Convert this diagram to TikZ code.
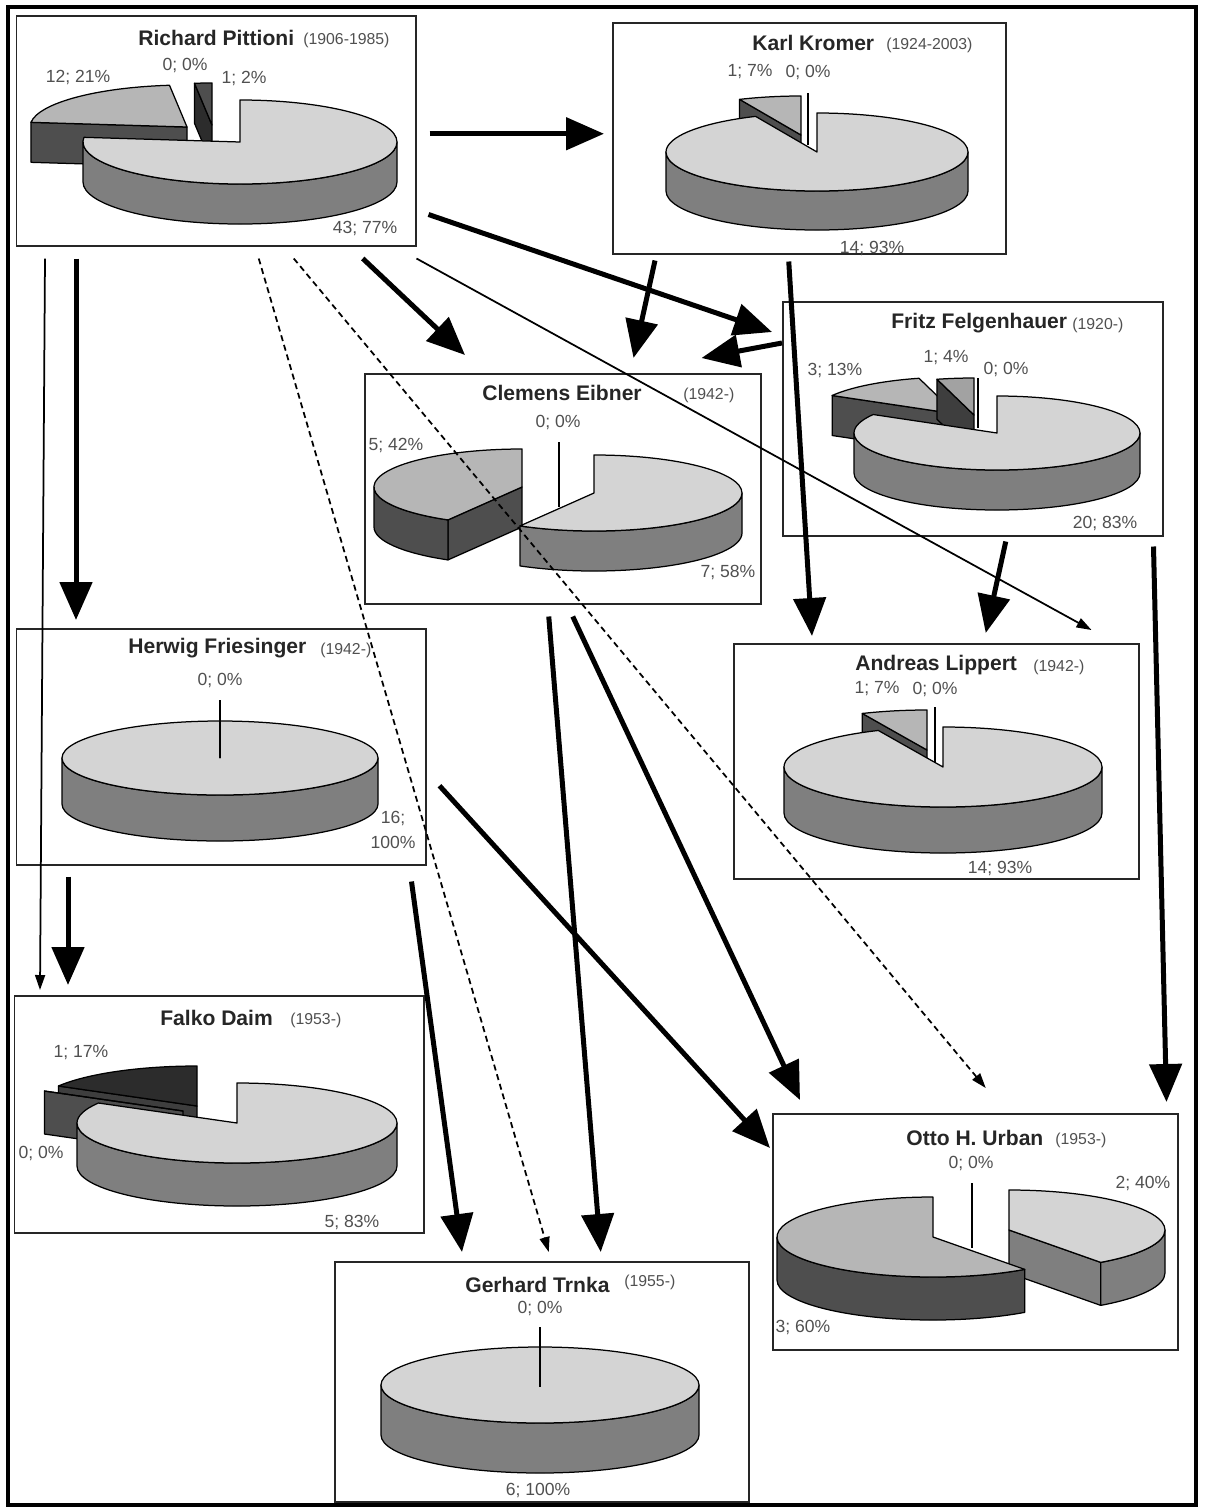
\documentclass[tikz,border=0pt]{standalone}
\usepackage{fontspec}
\setmainfont{Liberation Sans}
\usetikzlibrary{arrows.meta}

\definecolor{pietop}{HTML}{D4D4D4}
\definecolor{pieside}{HTML}{7F7F7F}
\definecolor{sectop}{HTML}{B6B6B6}
\definecolor{secside}{HTML}{4E4E4E}
\definecolor{smalltop}{HTML}{A2A2A2}
\definecolor{smallside}{HTML}{3E3E3E}
\definecolor{darktop}{HTML}{2C2C2C}
\definecolor{lblgray}{HTML}{505050}

% radii and depth of the pie in hand
\def\prx{150}\def\pry{40}\def\pdp{40}

% apex x, apex y, from angle, to angle, top colour, side colour
\newcommand{\pieslice}[6]{%
  \begin{scope}[shift={(#1,#2)}]
    \pgfmathtruncatemacro{\pvsa}{sin(#3-90)>0.01}%
    \pgfmathtruncatemacro{\pvsb}{sin(#4+90)>0.01}%
    \pgfmathsetmacro{\pslo}{max(#3,0)}%
    \pgfmathsetmacro{\pshi}{min(#4,180)}%
    \pgfmathtruncatemacro{\pvo}{\pshi>\pslo}%
    \ifnum\pvsa=1
      \filldraw[pieline, fill=#6] (0,0) -- ({\prx*cos(#3)},{\pry*sin(#3)}) -- ++(0,\pdp) -- (0,\pdp) -- cycle;
    \fi
    \ifnum\pvsb=1
      \filldraw[pieline, fill=#6] (0,0) -- ({\prx*cos(#4)},{\pry*sin(#4)}) -- ++(0,\pdp) -- (0,\pdp) -- cycle;
    \fi
    \ifnum\pvo=1
      \filldraw[pieline, fill=#6] ({\prx*cos(\pslo)},{\pry*sin(\pslo)})
        arc[start angle=\pslo, end angle=\pshi, x radius=\prx, y radius=\pry] -- ++(0,\pdp)
        arc[start angle=\pshi, end angle=\pslo, x radius=\prx, y radius=\pry] -- cycle;
    \fi
    \filldraw[pieline, fill=#5] (0,0) -- ({\prx*cos(#3)},{\pry*sin(#3)})
      arc[start angle=#3, end angle=#4, x radius=\prx, y radius=\pry] -- cycle;
  \end{scope}}

\tikzset{
  box/.style={draw=black!85, line width=0.03cm, anchor=north west, inner sep=0pt},
  pieline/.style={draw=black, line width=0.025cm, line join=round},
  zeroline/.style={draw=black, line width=0.025cm},
  ttl/.style={font=\fontsize{12}{13}\selectfont\bfseries, text=black!85, anchor=west, inner sep=0pt},
  yrs/.style={font=\fontsize{9}{10}\selectfont, text=lblgray, anchor=west, inner sep=0pt},
  lbl/.style={font=\fontsize{10}{14}\selectfont, text=lblgray, inner sep=0pt, align=center},
  thickarrow/.style={line width=0.1cm, -{Triangle[length=0.76cm,width=0.64cm]}},
  thinarrow/.style={line width=0.035cm, -{Triangle[length=0.3cm,width=0.2cm]}},
  dasharrow/.style={thinarrow, dash pattern=on 0.12cm off 0.08cm}
}

\begin{document}
\begin{tikzpicture}[x=0.02cm, y=-0.02cm]
\useasboundingbox (0,0) rectangle (1209,1512);
\draw[line width=0.08cm] (8,7) rectangle (1196,1505);

% Richard Pittioni
\def\prx{157}\def\pry{42}\def\pdp{40}
\pieslice{187}{127}{186.4}{263.6}{sectop}{secside}
\pieslice{212}{125}{263.6}{270}{secside}{darktop}
\pieslice{240}{142}{-90}{186.4}{pietop}{pieside}
\node[box, minimum width=399*0.02cm, minimum height=230*0.02cm] (pit) at (16,15) {};
\node[ttl] (pitname) at (138,38) {Richard Pittioni};
\node[yrs] (pityrs) at (303,40) {(1906-1985)};
\node[lbl] (pitb) at (78,77) {12; 21\%};
\node[lbl] (pitd) at (185,65) {0; 0\%};
\node[lbl] (pitc) at (244,78) {1; 2\%};
\node[lbl] (pita) at (365,228) {43; 77\%};

% Karl Kromer
\def\prx{151}\def\pry{39}\def\pdp{39}
\pieslice{801}{135}{246}{270}{sectop}{secside}
\draw[zeroline] (808,93) -- (808,145);
\pieslice{817}{152}{-90}{246}{pietop}{pieside}
\node[box, minimum width=393*0.02cm, minimum height=231*0.02cm] (kro) at (612,22) {};
\node[ttl] (kroname) at (752,43) {Karl Kromer};
\node[yrs] (kroyrs) at (886,45) {(1924-2003)};
\node[lbl] (krob) at (750,72) {1; 7\%};
\node[lbl] (kroc) at (808,72) {0; 0\%};
\node[lbl] (kroa) at (872,248) {14; 93\%};

% Fritz Felgenhauer
\def\prx{143}\def\pry{37}\def\pdp{40}
\pieslice{956}{414}{210}{255}{sectop}{secside}
\pieslice{974}{415}{255}{270}{smalltop}{smallside}
\draw[zeroline] (978,378) -- (978,428);
\pieslice{997}{433}{-90}{210}{pietop}{pieside}
\node[box, minimum width=380*0.02cm, minimum height=234*0.02cm] (fel) at (782,301) {};
\node[ttl] (felname) at (891,323) {Fritz Felgenhauer};
\node[yrs] (felyrs) at (1072,325) {(1920-)};
\node[lbl] (felb) at (835,370) {3; 13\%};
\node[lbl] (felc) at (946,358) {1; 4\%};
\node[lbl] (feld) at (1006,369) {0; 0\%};
\node[lbl] (fela) at (1105,523) {20; 83\%};

% Clemens Eibner
\def\prx{148}\def\pry{38}\def\pdp{40}
\pieslice{522}{487}{120}{270}{sectop}{secside}
\pieslice{594}{493}{-90}{120}{pietop}{pieside}
\draw[zeroline] (559,442) -- (559,507);
\node[box, minimum width=396*0.02cm, minimum height=230*0.02cm] (eib) at (364,373) {};
\node[ttl] (eibname) at (482,393) {Clemens Eibner};
\node[yrs] (eibyrs) at (683,395) {(1942-)};
\node[lbl] (eibb) at (396,445) {5; 42\%};
\node[lbl] (eibc) at (558,422) {0; 0\%};
\node[lbl] (eiba) at (728,572) {7; 58\%};

% Herwig Friesinger
\def\prx{158}\def\pry{37}\def\pdp{46}
\pieslice{220}{758}{-90}{270}{pietop}{pieside}
\draw[zeroline] (220,700) -- (220,758);
\node[box, minimum width=409*0.02cm, minimum height=236*0.02cm] (fri) at (16,628) {};
\node[ttl] (friname) at (128,648) {Herwig Friesinger};
\node[yrs] (friyrs) at (320,650) {(1942-)};
\node[lbl] (frib) at (220,680) {0; 0\%};
\node[lbl] (fria) at (393,830) {16;\\100\%};

% Andreas Lippert
\def\prx{159}\def\pry{40}\def\pdp{46}
\pieslice{927}{750}{246}{270}{sectop}{secside}
\draw[zeroline] (935,707) -- (935,767);
\pieslice{943}{767}{-90}{246}{pietop}{pieside}
\node[box, minimum width=405*0.02cm, minimum height=235*0.02cm] (lip) at (733,643) {};
\node[ttl] (lipname) at (855,665) {Andreas Lippert};
\node[yrs] (lipyrs) at (1033,667) {(1942-)};
\node[lbl] (lipb) at (877,689) {1; 7\%};
\node[lbl] (lipc) at (935,689) {0; 0\%};
\node[lbl] (lipa) at (1000,868) {14; 93\%};

% Falko Daim
\def\prx{160}\def\pry{40}\def\pdp{43}
\pieslice{197}{1106}{210}{270}{darktop}{smallside}
\pieslice{183}{1111}{210}{210}{secside}{secside}
\pieslice{237}{1123}{-90}{210}{pietop}{pieside}
\node[box, minimum width=409*0.02cm, minimum height=237*0.02cm] (dai) at (14,995) {};
\node[ttl] (dainame) at (160,1018) {Falko Daim};
\node[yrs] (daiyrs) at (290,1020) {(1953-)};
\node[lbl] (daib) at (81,1053) {1; 17\%};
\node[lbl] (daic) at (41,1153) {0; 0\%};
\node[lbl] (daia) at (352,1222) {5; 83\%};

% Otto H. Urban
\def\prx{156}\def\pry{40}\def\pdp{43}
\pieslice{1009}{1230}{-90}{54}{pietop}{pieside}
\pieslice{933}{1237}{54}{270}{sectop}{secside}
\draw[zeroline] (972,1183) -- (972,1248);
\node[box, minimum width=405*0.02cm, minimum height=236*0.02cm] (urb) at (772,1113) {};
\node[ttl] (urbname) at (906,1138) {Otto H. Urban};
\node[yrs] (urbyrs) at (1055,1140) {(1953-)};
\node[lbl] (urbc) at (971,1163) {0; 0\%};
\node[lbl] (urbb) at (1143,1183) {2; 40\%};
\node[lbl] (urba) at (803,1327) {3; 60\%};

% Gerhard Trnka
\def\prx{159}\def\pry{38}\def\pdp{50}
\pieslice{540}{1385}{-90}{270}{pietop}{pieside}
\draw[zeroline] (540,1327) -- (540,1387);
\node[box, minimum width=414*0.02cm, minimum height=240*0.02cm] (trn) at (334,1261) {};
\node[ttl] (trnname) at (465,1285) {Gerhard Trnka};
\node[yrs] (trnyrs) at (624,1282) {(1955-)};
\node[lbl] (trnb) at (540,1308) {0; 0\%};
\node[lbl] (trna) at (538,1490) {6; 100\%};

% links
\draw[thickarrow] ([shift={(13,3)}]pit.east) -- ([shift={(-8,-4.5)}]kro.west);
\draw[thickarrow] ([shift={(12,-32)}]pit.south east) -- ([shift={(-10,31)}]fel.north west);
\draw[thickarrow] ([shift={(146.5,12)}]pit.south) -- ([shift={(101,-18)}]eib.north west);
\draw[thinarrow] ([shift={(0,12)}]pit.south east) -- ([shift={(-48,-13)}]lip.north east);
\draw[dasharrow] ([shift={(42.5,12)}]pit.south) -- ([shift={(7,-9)}]trn.north);
\draw[dasharrow] ([shift={(77.5,12)}]pit.south) -- ([shift={(10.5,-25)}]urb.north);
\draw[thickarrow] ([shift={(60,12)}]pit.south west) -- ([shift={(60,-8)}]fri.north west);
\draw[thinarrow] ([shift={(29,12)}]pit.south west) -- ([shift={(26,-5)}]dai.north west);
\draw[thickarrow] ([shift={(43,6)}]kro.south west) -- ([shift={(-128,-15)}]eib.north east);
\draw[thickarrow] ([shift={(-20.5,7)}]kro.south) -- ([shift={(79,-7)}]lip.north west);
\draw[thickarrow] ([shift={(0,42)}]fel.north west) -- ([shift={(-60,-15)}]eib.north east);
\draw[thickarrow] ([shift={(33,5)}]fel.south) -- ([shift={(49.5,-10)}]lip.north);
\draw[thickarrow] ([shift={(-10,10)}]fel.south east) -- ([shift={(-12,-11)}]urb.north east);
\draw[thickarrow] ([shift={(-14,12)}]eib.south) -- ([shift={(59,-9)}]trn.north);
\draw[thickarrow] ([shift={(10,12)}]eib.south) -- ([shift={(28,-13)}]urb.north west);
\draw[thickarrow] ([shift={(52,11)}]fri.south west) -- ([shift={(54,-10)}]dai.north west);
\draw[thickarrow] ([shift={(-15,16)}]fri.south east) -- ([shift={(128,-9)}]trn.north west);
\draw[thickarrow] ([shift={(13,39)}]fri.east) -- ([shift={(-2,35)}]urb.north west);
\end{tikzpicture}
\end{document}
